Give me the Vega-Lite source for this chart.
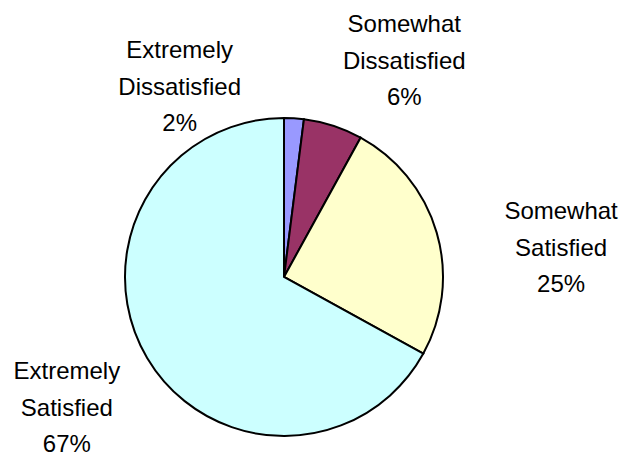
{
  "$schema": "https://vega.github.io/schema/vega-lite/v6.json",
  "width": 568,
  "height": 358,
  "autosize": {"type": "none"},
  "padding": {"left": 0, "top": 98, "right": 56, "bottom": 0},
  "background": "white",
  "config": {"view": {"stroke": null}},
  "data": {
    "values": [
      {"category": "Extremely Dissatisfied", "line1": "Extremely", "line2": "Dissatisfied", "value": 2, "rank": 1},
      {"category": "Somewhat Dissatisfied", "line1": "Somewhat", "line2": "Dissatisfied", "value": 6, "rank": 2},
      {"category": "Somewhat Satisfied", "line1": "Somewhat", "line2": "Satisfied", "value": 25, "rank": 3},
      {"category": "Extremely Satisfied", "line1": "Extremely", "line2": "Satisfied", "value": 67, "rank": 4}
    ]
  },
  "transform": [
    {"stack": "value", "groupby": [], "sort": [{"field": "rank", "order": "ascending"}], "as": ["v0", "v1"]},
    {"calculate": "(datum.v0 + datum.v1) / 2", "as": "mid"},
    {"calculate": "datum.line1 + '\\n' + datum.line2 + '\\n' + datum.value + '%'", "as": "label"}
  ],
  "layer": [
    {
      "mark": {"type": "arc", "radius": 159, "stroke": "black", "strokeWidth": 2},
      "encoding": {
        "theta": {"field": "v0", "type": "quantitative", "scale": {"domain": [0, 100]}},
        "theta2": {"field": "v1"},
        "color": {
          "field": "category",
          "type": "nominal",
          "scale": {
            "domain": ["Extremely Dissatisfied", "Somewhat Dissatisfied", "Somewhat Satisfied", "Extremely Satisfied"],
            "range": ["#9999FF", "#993366", "#FFFFCC", "#CCFFFF"]
          },
          "legend": null
        }
      }
    },
    {
      "transform": [{"filter": "datum.rank == 1"}],
      "mark": {"type": "text", "radius": 250, "dx": -120, "dy": 24, "font": "Liberation Sans", "fontSize": 24, "lineHeight": 36.5, "lineBreak": "\n", "align": "center", "baseline": "middle", "color": "black"},
      "encoding": {
        "theta": {"field": "mid", "type": "quantitative", "scale": {"domain": [0, 100]}},
        "text": {"field": "label"}
      }
    },
    {
      "transform": [{"filter": "datum.rank == 2"}],
      "mark": {"type": "text", "radius": 250, "dx": 43, "dy": -14, "font": "Liberation Sans", "fontSize": 24, "lineHeight": 36.5, "lineBreak": "\n", "align": "center", "baseline": "middle", "color": "black"},
      "encoding": {
        "theta": {"field": "mid", "type": "quantitative", "scale": {"domain": [0, 100]}},
        "text": {"field": "label"}
      }
    },
    {
      "transform": [{"filter": "datum.rank == 3"}],
      "mark": {"type": "text", "radius": 250, "dx": 37, "dy": 5, "font": "Liberation Sans", "fontSize": 24, "lineHeight": 36.5, "lineBreak": "\n", "align": "center", "baseline": "middle", "color": "black"},
      "encoding": {
        "theta": {"field": "mid", "type": "quantitative", "scale": {"domain": [0, 100]}},
        "text": {"field": "label"}
      }
    },
    {
      "transform": [{"filter": "datum.rank == 4"}],
      "mark": {"type": "text", "radius": 250, "dx": -2, "dy": -32, "font": "Liberation Sans", "fontSize": 24, "lineHeight": 36.5, "lineBreak": "\n", "align": "center", "baseline": "middle", "color": "black"},
      "encoding": {
        "theta": {"field": "mid", "type": "quantitative", "scale": {"domain": [0, 100]}},
        "text": {"field": "label"}
      }
    }
  ]
}
